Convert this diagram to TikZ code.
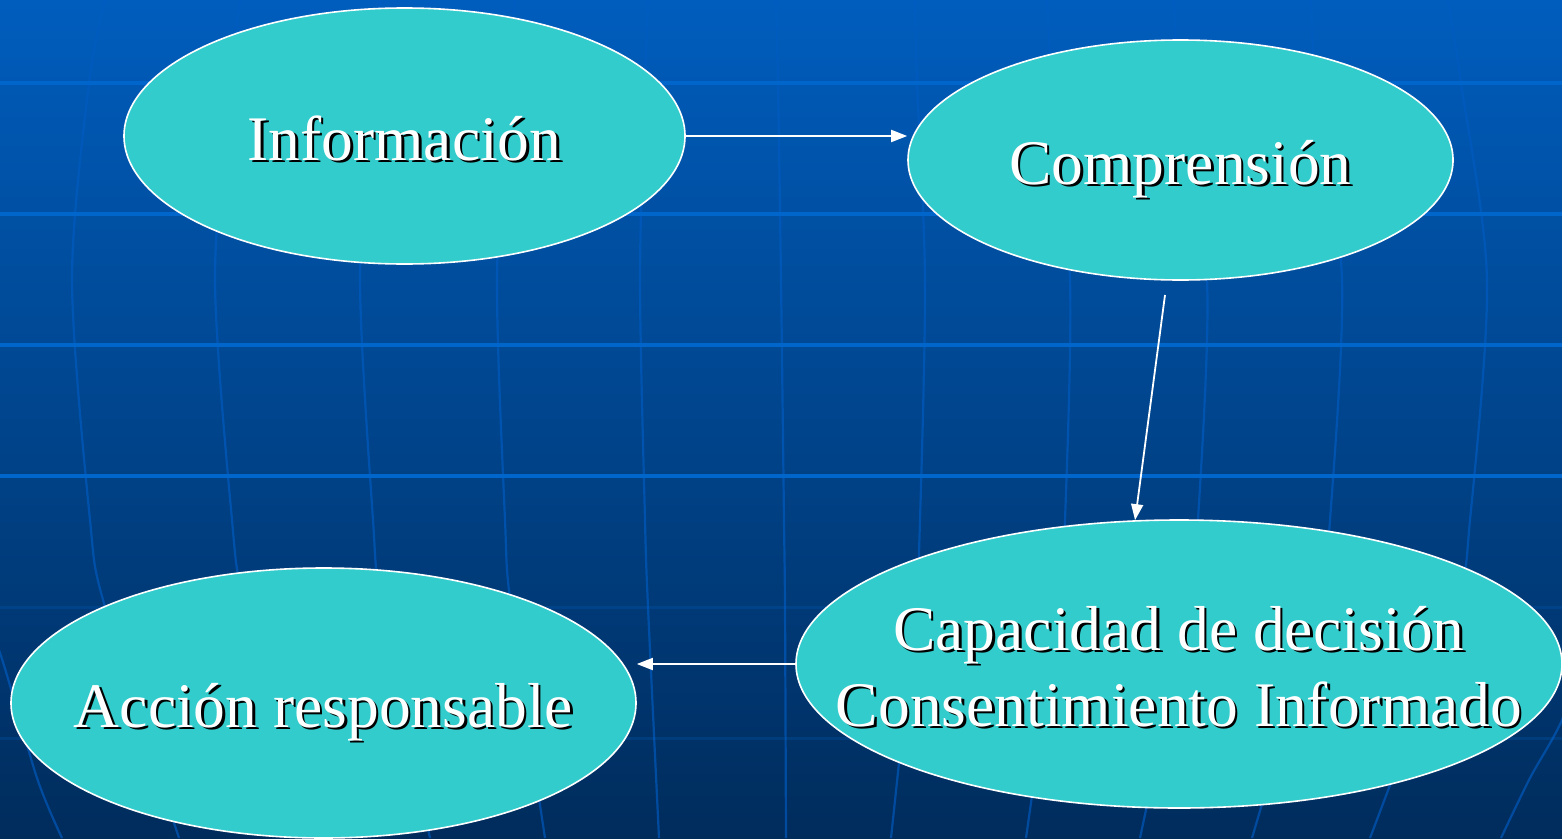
\documentclass[tikz,border=0pt]{standalone}
\usepackage{fontspec}
\setmainfont{Liberation Serif}
\usetikzlibrary{shapes.geometric,arrows.meta}
\definecolor{bgtop}{RGB}{0,93,189}
\definecolor{bgbot}{RGB}{0,44,92}
\definecolor{gridh}{RGB}{0,102,204}
\definecolor{gridv}{RGB}{0,92,194}
\definecolor{teal}{RGB}{51,204,204}
\newcommand\shtxt[1]{\rlap{\kern2.5bp\raisebox{-2.5bp}{\color{black}#1}}{\color{white}#1}}
\tikzset{
  meridian/.style={draw=gridv, opacity=0.65, line width=2.2bp},
  parallel/.style={draw=gridh, line width=3.5bp},
  faintpar/.style={draw=gridh, opacity=0.22, line width=3bp},
  bubble/.style={ellipse, draw=white, line width=1.6bp, fill=teal, inner sep=0pt},
  lbl/.style={inner sep=0pt, align=center, text height=48bp, text depth=0bp,
    font=\fontsize{63.5bp}{76bp}\selectfont},
  conn/.style={draw=white, line width=1.8bp, -{Triangle[length=16bp,width=12bp]}}
}
\begin{document}
\begin{tikzpicture}[x=1bp,y=-1bp]
\useasboundingbox (0,0) rectangle (1562,838);
\shade[top color=bgtop, bottom color=bgbot] (0,0) rectangle (1562,838);
% meridians
\begin{scope}
\clip (0,0) rectangle (1562,838);
\draw[meridian] plot[smooth] coordinates {(-25,600) (0,653) (37,778) (62,838)};
\draw[meridian] plot[smooth] coordinates {(105,0) (89,83) (72,280) (90,520) (105,607) (179,838)};
\draw[meridian] plot[smooth] coordinates {(240,0) (230,83) (215,280) (232,520) (245,607) (305,838)};
\draw[meridian] plot[smooth] coordinates {(380,0) (372,83) (360,280) (373,520) (382,607) (430,838)};
\draw[meridian] plot[smooth] coordinates {(515,0) (508,83) (497,280) (505,520) (511,607) (545,838)};
\draw[meridian] plot[smooth] coordinates {(648,0) (645,83) (640,280) (645,520) (648,607) (659,838)};
\draw[meridian] plot[smooth] coordinates {(776,0) (778,83) (781,280) (784,520) (785,607) (786,838)};
\draw[meridian] plot[smooth] coordinates {(915,0) (917,83) (925,280) (920,520) (915,607) (891,838)};
\draw[meridian] plot[smooth] coordinates {(1047,0) (1052,83) (1070,280) (1065,520) (1058,607) (1026,838)};
\draw[meridian] plot[smooth] coordinates {(1174,0) (1179,83) (1207,280) (1198,520) (1188,607) (1140,838)};
\draw[meridian] plot[smooth] coordinates {(1311,0) (1316,83) (1342,280) (1330,520) (1318,607) (1252,838)};
\draw[meridian] plot[smooth] coordinates {(1448,0) (1461,83) (1487,280) (1470,520) (1455,607) (1370,838)};
\draw[meridian] plot[smooth] coordinates {(1590,640) (1562,720) (1530,778) (1501,838)};
\end{scope}
% parallels
\foreach \yy in {83,214,345,476} \draw[parallel] (0,\yy) -- (1562,\yy);
\foreach \yy in {607,738} \draw[faintpar] (0,\yy) -- (1562,\yy);
% nodes
\node[bubble, minimum width=561bp, minimum height=256bp] (info) at (404.5,136) {};
\node[bubble, minimum width=545bp, minimum height=240bp] (comp) at (1180.5,160) {};
\node[bubble, minimum width=766bp, minimum height=288bp] (capa) at (1179,664) {};
\node[bubble, minimum width=625bp, minimum height=270bp] (acc) at (323.5,703) {};
\node[lbl] (infoT) at (info) {\shtxt{Información}};
\node[lbl] (compT) at (comp) {\shtxt{Comprensión}};
\node[lbl, text height=124bp] (capaT) at (capa) {\shtxt{Capacidad de decisión}\\\shtxt{Consentimiento Informado}};
\node[lbl] (accT) at (acc) {\shtxt{Acción responsable}};
% connectors
\coordinate (a2s) at (1165,295);
\draw[conn] (info.east) -- (info.east -| comp.west);
\draw[conn] (a2s) -- (capa.107.8);
\draw[conn] (capa.west) -- (capa.west -| acc.east);
\end{tikzpicture}
\end{document}
